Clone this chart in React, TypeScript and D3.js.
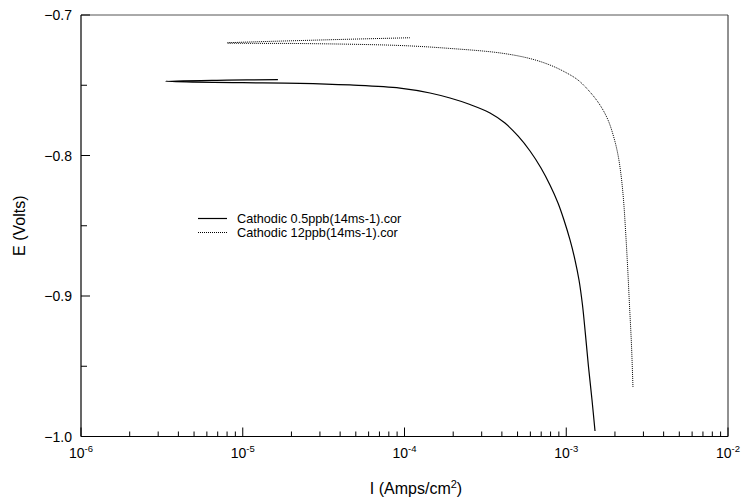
import React from "react";
import * as d3 from "d3";

const WIDTH = 741;
const HEIGHT = 502;
const M = { left: 81, right: 728, top: 15, bottom: 436.5 };

// Cathodic 0.5ppb: current (A/cm2) and potential (V)
const lowI = [
  1.65e-5, 8e-6, 3.34e-6, 5e-6, 1e-5, 2.258e-5, 4.603e-5, 9.38e-5, 1.438e-4,
  1.911e-4, 2.541e-4, 3.378e-4, 4.18e-4, 5.03e-4, 5.97e-4, 6.98e-4, 7.93e-4,
  8.89e-4, 9.68e-4, 1.055e-3, 1.133e-3, 1.199e-3, 1.26e-3, 1.315e-3,
  1.373e-3, 1.443e-3, 1.506e-3,
];
const lowE = [
  -0.746, -0.7464, -0.7472, -0.7478, -0.7482, -0.7486, -0.7498, -0.752,
  -0.7555, -0.7591, -0.7637, -0.7697, -0.7769, -0.7861, -0.7968, -0.8089,
  -0.821, -0.8338, -0.8459, -0.8601, -0.8744, -0.8886, -0.9064, -0.9277,
  -0.9505, -0.974, -0.9961,
];

// Cathodic 12ppb
const highI = [
  1.08e-4, 3.0e-5, 7.99e-6, 1.28e-5, 2.258e-5, 9.38e-5, 1.911e-4, 3.895e-4,
  5.97e-4, 7.93e-4, 9.82e-4, 1.182e-3, 1.402e-3, 1.617e-3, 1.812e-3, 1.973e-3,
  2.089e-3, 2.181e-3, 2.26e-3, 2.325e-3, 2.392e-3, 2.46e-3, 2.531e-3, 2.586e-3,
];
const highE = [
  -0.7162, -0.7178, -0.7199, -0.7202, -0.7203, -0.7217, -0.7238, -0.727,
  -0.731, -0.7356, -0.7406, -0.7463, -0.7548, -0.7641, -0.7747, -0.7875,
  -0.7996, -0.8139, -0.8317, -0.853, -0.8779, -0.9064, -0.9349, -0.9655,
];

const xDecades = [-6, -5, -4, -3, -2];
const yMajor = [-0.7, -0.8, -0.9, -1.0];
const yMinor = [-0.75, -0.85, -0.95];

const series = [
  { name: "Cathodic 0.5ppb(14ms-1).cor", I: lowI, E: lowE, dash: null },
  { name: "Cathodic 12ppb(14ms-1).cor", I: highI, E: highE, dash: "1,1" },
];

const FONT = "Arial, 'Liberation Sans', Helvetica, sans-serif";

export default function App() {
  const x = d3.scaleLog().domain([1e-6, 1e-2]).range([M.left, M.right]);
  const y = d3.scaleLinear().domain([-1.0, -0.7]).range([M.bottom, M.top]);

  const line = d3
    .line<[number, number]>()
    .x((d) => x(d[0]))
    .y((d) => y(d[1]))
    .curve(d3.curveCatmullRom.alpha(0.5));

  const minorX: number[] = [];
  xDecades.slice(0, -1).forEach((p) => {
    for (let k = 2; k <= 9; k++) minorX.push(k * Math.pow(10, p));
  });

  return (
    <div style={{ position: "absolute", left: 0, top: 0 }}>
      <svg width={WIDTH} height={HEIGHT} style={{ display: "block", background: "#fff" }}>
        {/* frame */}
        <line x1={M.left} x2={M.right} y1={M.top} y2={M.top} stroke="#555" strokeWidth={1} />
        <line x1={M.right} x2={M.right} y1={M.top} y2={M.bottom} stroke="#222" strokeWidth={1} />
        <line x1={M.left} x2={M.left} y1={M.top} y2={M.bottom} stroke="#000" strokeWidth={1.2} />
        <line x1={M.left} x2={M.right} y1={M.bottom} y2={M.bottom} stroke="#000" strokeWidth={1.2} />

        {/* x ticks */}
        {minorX.map((v) => (
          <line key={"mx" + v} x1={x(v)} x2={x(v)} y1={M.bottom} y2={M.bottom - 5} stroke="#000" strokeWidth={1} />
        ))}
        {xDecades.map((p) => (
          <g key={"x" + p}>
            <line x1={x(Math.pow(10, p))} x2={x(Math.pow(10, p))} y1={M.bottom} y2={M.bottom - 9} stroke="#000" strokeWidth={1} />
            <text x={x(Math.pow(10, p))} y={458} textAnchor="middle" fontFamily={FONT} fontSize={14} fill="#000">
              10<tspan dy={-6} fontSize={9.5}>{p}</tspan>
            </text>
          </g>
        ))}

        {/* y ticks */}
        {yMinor.map((v) => (
          <line key={"my" + v} x1={M.left} x2={M.left + 6} y1={y(v)} y2={y(v)} stroke="#000" strokeWidth={1} />
        ))}
        {yMajor.map((v) => (
          <g key={"y" + v}>
            <line x1={M.left} x2={M.left + 9} y1={y(v)} y2={y(v)} stroke="#000" strokeWidth={1} />
            <text x={72} y={y(v)} dy="0.36em" textAnchor="end" fontFamily={FONT} fontSize={14} fill="#000">
              {d3.format(".1f")(v)}
            </text>
          </g>
        ))}

        {/* axis titles */}
        <text x={416} y={494} textAnchor="middle" fontFamily={FONT} fontSize={16} fill="#000">
          I (Amps/cm<tspan dy={-6} fontSize={11}>2</tspan>
          <tspan dy={6}>)</tspan>
        </text>
        <text
          transform={`translate(25, ${(M.top + M.bottom) / 2}) rotate(-90)`}
          textAnchor="middle"
          fontFamily={FONT}
          fontSize={16}
          fill="#000"
        >
          E (Volts)
        </text>

        {/* curves */}
        {series.map((s) => (
          <path
            key={s.name}
            d={line(s.I.map((v, i) => [v, s.E[i]] as [number, number])) || ""}
            fill="none"
            stroke="#000"
            strokeWidth={s.dash ? 1 : 1.2}
            strokeDasharray={s.dash || undefined}
          />
        ))}

        {/* legend */}
        {series.map((s, i) => (
          <g key={"lg" + i} transform={`translate(198, ${218.5 + i * 14})`}>
            <line x1={0} x2={29} y1={0} y2={0} stroke="#000" strokeWidth={s.dash ? 1 : 1.2} strokeDasharray={s.dash || undefined} />
            <text x={39} y={0} dy="0.35em" fontFamily={FONT} fontSize={12.7} fill="#000">
              {s.name}
            </text>
          </g>
        ))}
      </svg>
    </div>
  );
}
